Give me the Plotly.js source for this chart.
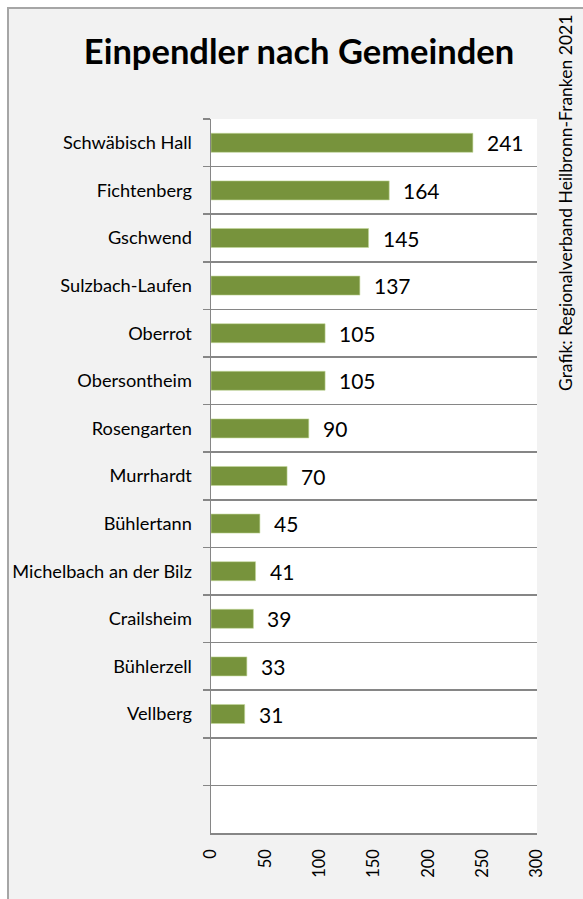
<!DOCTYPE html>
<html>
<head>
<meta charset="utf-8">
<script src="https://cdn.plot.ly/plotly-3.0.1.min.js"></script>
<style>
  html, body { margin: 0; padding: 0; background: #ffffff; }
  #frame { position: absolute; left: 7px; top: 7px; width: 620px; height: 940px;
           background: #f2f2f2; border: 2px solid #a6a6a6; box-sizing: border-box; }
  #chart { position: absolute; left: 0; top: 0; width: 583px; height: 899px; }
</style>
</head>
<body>
<div id="frame"></div>
<div id="chart"></div>
<script>
const categories = ["Schwäbisch Hall", "Fichtenberg", "Gschwend", "Sulzbach-Laufen", "Oberrot",
  "Obersontheim", "Rosengarten", "Murrhardt", "Bühlertann", "Michelbach an der Bilz",
  "Crailsheim", "Bühlerzell", "Vellberg"];
const values = [241, 164, 145, 137, 105, 105, 90, 70, 45, 41, 39, 33, 31];
const emptySlots = [" ", "  "];
const xTicks = [0, 50, 100, 150, 200, 250, 300];
const titleText = "Einpendler nach Gemeinden";
const sourceText = "Grafik: Regionalverband Heilbronn-Franken 2021";

const font = "Lato, 'Open Sans', sans-serif";
const allCats = categories.concat(emptySlots);

const trace = {
  type: "bar",
  orientation: "h",
  x: values,
  y: categories,
  marker: { color: "#77933c", line: { color: "#c3d69b", width: 0.6 } },
  hoverinfo: "skip"
};

const labelAnnotations = values.map((v, i) => ({
  x: v, y: categories[i], xref: "x", yref: "y",
  text: String(v), showarrow: false, xanchor: "left", yanchor: "middle",
  xshift: 12, font: { family: font, size: 21, color: "#000000" }
}));

const layout = {
  width: 583, height: 899,
  margin: { l: 211, r: 46, t: 119, b: 66 },
  paper_bgcolor: "rgba(0,0,0,0)",
  plot_bgcolor: "#ffffff",
  showlegend: false,
  bargap: 0.6,
  title: {
    text: "<b>" + titleText + "</b>",
    font: { family: font, size: 34.5, color: "#000000" },
    xref: "container", yref: "container",
    x: 299 / 583, xanchor: "center",
    y: 1 - 51.5 / 899, yanchor: "middle"
  },
  xaxis: {
    range: [0, 300], tickmode: "array", tickvals: xTicks, ticktext: xTicks.map(String),
    tickangle: -90, showgrid: false, zeroline: false,
    showline: true, linecolor: "#868686", linewidth: 1.5,
    ticks: "", ticklabelstandoff: 8,
    tickfont: { family: font, size: 16.5, color: "#000000" },
    fixedrange: true
  },
  yaxis: {
    type: "category", categoryorder: "array", categoryarray: allCats,
    range: [allCats.length - 0.5, -0.5],
    tickson: "boundaries", ticks: "outside", ticklen: 7, tickcolor: "#868686", tickwidth: 1.5,
    showgrid: true, gridcolor: "#868686", gridwidth: 1.5,
    showline: true, linecolor: "#868686", linewidth: 1.5,
    zeroline: false, ticklabelstandoff: 14,
    tickfont: { family: font, size: 18.2, color: "#000000" },
    fixedrange: true
  },
  annotations: labelAnnotations.concat([{
    text: sourceText, xref: "paper", yref: "paper",
    x: (565 - 211) / 326, y: 1 - (203 - 119) / 714,
    xanchor: "center", yanchor: "middle", textangle: -90, showarrow: false,
    font: { family: font, size: 17.5, color: "#000000" }
  }])
};

Plotly.newPlot("chart", [trace], layout, { displayModeBar: false, staticPlot: true });
</script>
</body>
</html>
